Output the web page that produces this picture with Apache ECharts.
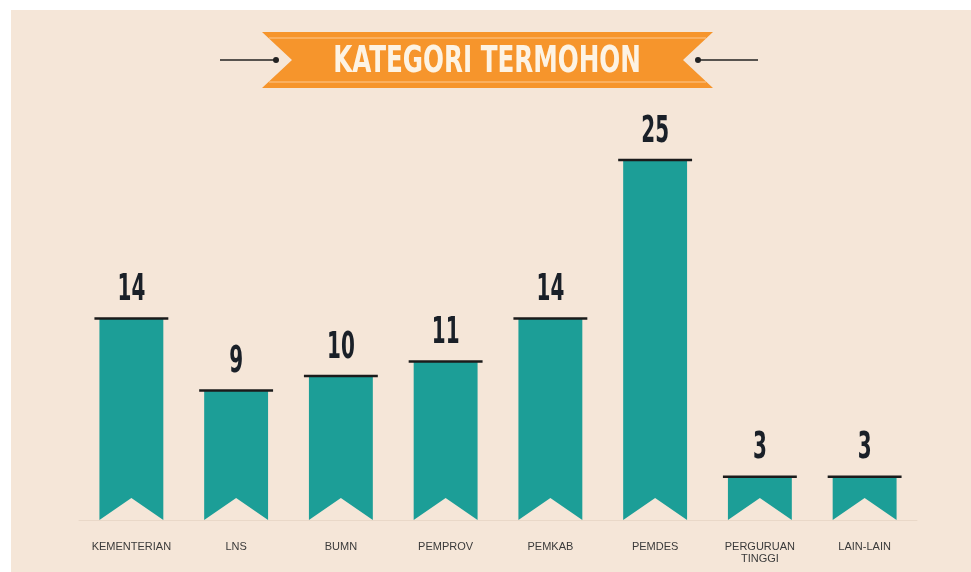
<!DOCTYPE html>
<html>
<head>
<meta charset="utf-8">
<script src="https://cdn.jsdelivr.net/npm/echarts@6/dist/echarts.min.js"></script>
<style>
  html, body { margin: 0; padding: 0; background: #ffffff; }
  #main { width: 971px; height: 572px; }
</style>
</head>
<body>
<div id="main"></div>
<script>
  // data
  var categories = ['KEMENTERIAN', 'LNS', 'BUMN', 'PEMPROV', 'PEMKAB', 'PEMDES', 'PERGURUAN\nTINGGI', 'LAIN-LAIN'];
  var values = [14, 9, 10, 11, 14, 25, 3, 3];
  var title = 'KATEGORI TERMOHON';

  var barColor = '#1c9e97';
  var capColor = '#1b1b1b';
  var numColor = '#1a2028';

  var myChart = echarts.init(document.getElementById('main'));

  function renderRibbon(params, api) {
    var idx = api.value(0);
    var v = api.value(1);
    var top = api.coord([idx, v]);
    var base = api.coord([idx, 0]);
    var w = api.size([1, 0])[0] * 0.61;
    var x0 = top[0] - w / 2, x1 = top[0] + w / 2;
    var notch = 22;
    return {
      type: 'group',
      children: [
        {
          type: 'polygon',
          shape: { points: [[x0, top[1]], [x1, top[1]], [x1, base[1]], [top[0], base[1] - notch], [x0, base[1]]] },
          style: { fill: barColor }
        },
        {
          type: 'line',
          shape: { x1: x0 - 5, y1: top[1], x2: x1 + 5, y2: top[1] },
          style: { stroke: capColor, lineWidth: 2.5 }
        },
        {
          type: 'text',
          x: top[0],
          y: top[1] - 28,
          scaleX: 0.6,
          style: {
            text: String(v),
            x: 0, y: 0,
            align: 'center',
            verticalAlign: 'middle',
            fill: numColor,
            fontFamily: 'DejaVu Sans Condensed',
            fontWeight: 'bold',
            fontSize: 37
          }
        }
      ]
    };
  }

  var cy = 60;
  myChart.setOption({
    backgroundColor: '#ffffff',
    animation: false,
    graphic: [
      { type: 'rect', z: -10, shape: { x: 11, y: 10, width: 960, height: 562 }, style: { fill: '#f5e6d8' } },
      {
        type: 'polygon',
        shape: { points: [[262, 32], [713, 32], [683, cy], [713, 88], [262, 88], [292, cy]] },
        style: { fill: '#f6952c' }
      },
      { type: 'line', shape: { x1: 269, y1: 38, x2: 706, y2: 38 }, style: { stroke: '#fbb86f', lineWidth: 1.5 } },
      { type: 'line', shape: { x1: 269, y1: 82, x2: 706, y2: 82 }, style: { stroke: '#fbb86f', lineWidth: 1.5 } },
      { type: 'line', shape: { x1: 220, y1: cy, x2: 276, y2: cy }, style: { stroke: '#222', lineWidth: 1.5 } },
      { type: 'circle', shape: { cx: 276, cy: cy, r: 3 }, style: { fill: '#222' } },
      { type: 'line', shape: { x1: 698, y1: cy, x2: 758, y2: cy }, style: { stroke: '#222', lineWidth: 1.5 } },
      { type: 'circle', shape: { cx: 698, cy: cy, r: 3 }, style: { fill: '#222' } },
      {
        type: 'text',
        x: 487, y: 62,
        scaleX: 0.74,
        style: {
          text: title,
          x: 0, y: 0,
          align: 'center',
          verticalAlign: 'middle',
          fill: '#fdf3e4',
          fontFamily: 'DejaVu Sans Condensed',
          fontWeight: 'bold',
          fontSize: 37
        }
      }
    ],
    grid: { left: 79, right: 54, top: 88, bottom: 52 },
    xAxis: {
      type: 'category',
      data: categories,
      offset: 10,
      axisLine: { show: true, lineStyle: { color: '#e9d8c8', width: 1 } },
      axisTick: { show: false },
      axisLabel: {
        color: '#3a3a3a',
        fontFamily: 'Liberation Sans',
        fontSize: 11,
        lineHeight: 12,
        margin: 11,
        interval: 0
      }
    },
    yAxis: {
      type: 'value',
      min: 0,
      max: 30,
      show: false,
      splitLine: { show: false }
    },
    series: [
      {
        type: 'custom',
        renderItem: renderRibbon,
        data: values.map(function (v, i) { return [i, v]; }),
        encode: { x: 0, y: 1 }
      }
    ]
  });
</script>
</body>
</html>
